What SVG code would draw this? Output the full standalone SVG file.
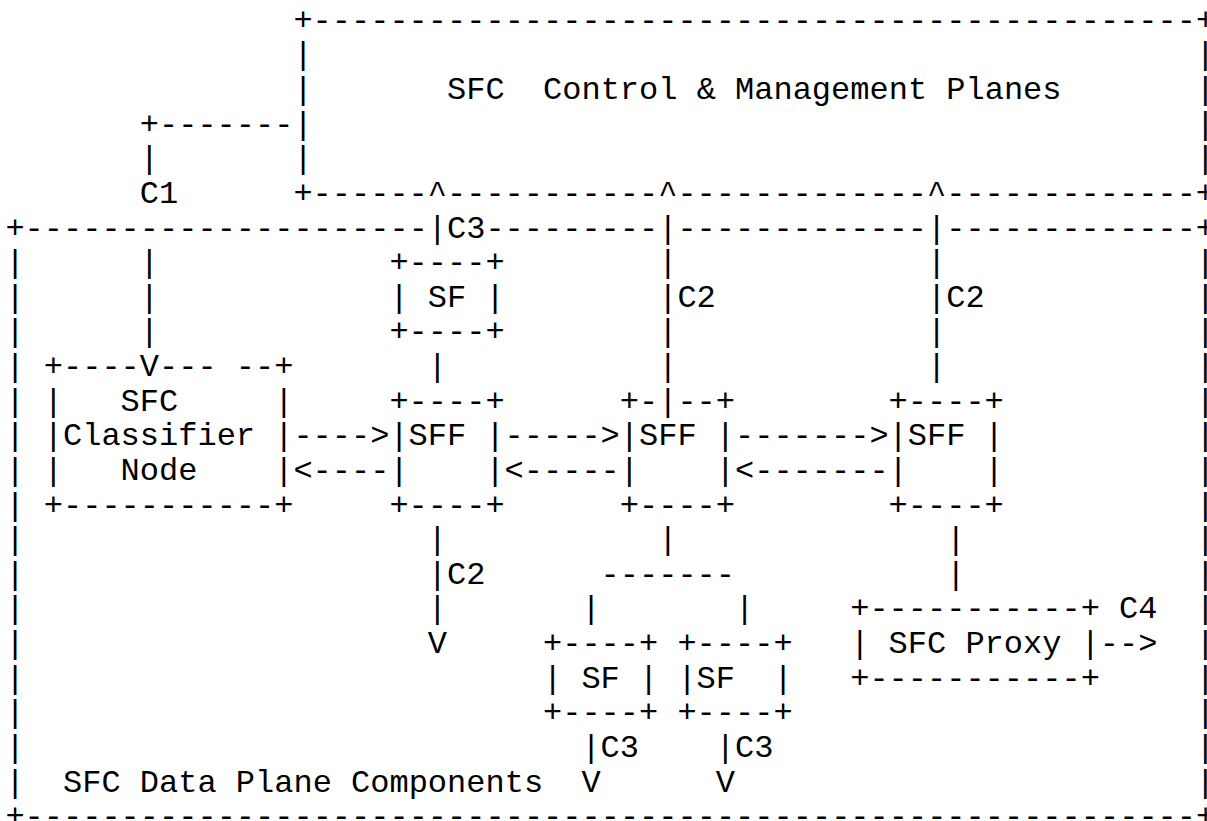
<svg xmlns="http://www.w3.org/2000/svg" width="1207" height="821" viewBox="0 0 1207 821" xml:space="preserve">
<style>
text { font-family: "Liberation Mono", "Courier New", monospace; font-size: 32px; fill: #000; white-space: pre; }
</style>
<rect x="0" y="0" width="1207" height="821" fill="#fff"/>
<g id="control-plane">
<text x="293.4" y="29.7">+----------------------------------------------+</text>
<text x="293.4" y="64.3">|</text><text x="1195.8" y="64.3">|</text>
<text x="293.4" y="99.0">|</text><text x="447.0" y="99.0">SFC  Control &amp; Management Planes</text><text x="1195.8" y="99.0">|</text>
<text x="293.4" y="133.6">|</text><text x="1195.8" y="133.6">|</text>
<text x="293.4" y="168.2">|</text><text x="1195.8" y="168.2">|</text>
<text x="293.4" y="202.9">+------</text><text x="447.0" y="202.9">-----------</text><text x="677.4" y="202.9">-------------</text><text x="946.2" y="202.9">-------------+</text>
</g>
<g id="data-plane">
<text x="5.4" y="237.5">+---------------------</text><text x="485.4" y="237.5">---------</text><text x="677.4" y="237.5">-------------</text><text x="946.2" y="237.5">-------------+</text>
<text x="5.4" y="272.1">|</text><text x="1195.8" y="272.1">|</text>
<text x="5.4" y="306.7">|</text><text x="1195.8" y="306.7">|</text>
<text x="5.4" y="341.4">|</text><text x="1195.8" y="341.4">|</text>
<text x="5.4" y="376.0">|</text><text x="1195.8" y="376.0">|</text>
<text x="5.4" y="410.6">|</text><text x="1195.8" y="410.6">|</text>
<text x="5.4" y="445.3">|</text><text x="1195.8" y="445.3">|</text>
<text x="5.4" y="479.9">|</text><text x="1195.8" y="479.9">|</text>
<text x="5.4" y="514.5">|</text><text x="1195.8" y="514.5">|</text>
<text x="5.4" y="549.2">|</text><text x="1195.8" y="549.2">|</text>
<text x="5.4" y="583.8">|</text><text x="1195.8" y="583.8">|</text>
<text x="5.4" y="618.4">|</text><text x="1195.8" y="618.4">|</text>
<text x="5.4" y="653.0">|</text><text x="1195.8" y="653.0">|</text>
<text x="5.4" y="687.7">|</text><text x="1195.8" y="687.7">|</text>
<text x="5.4" y="722.3">|</text><text x="1195.8" y="722.3">|</text>
<text x="5.4" y="756.9">|</text><text x="1195.8" y="756.9">|</text>
<text x="5.4" y="791.6">|</text><text x="63.0" y="791.6">SFC Data Plane Components</text><text x="1195.8" y="791.6">|</text>
<text x="5.4" y="826.2">+-------------------------------------------------------------+</text>
</g>
<g id="classifier">
<text x="43.8" y="376.0">+----</text><text x="159.0" y="376.0">--- --+</text>
<text x="43.8" y="410.6">|</text><text x="120.6" y="410.6">SFC</text><text x="274.2" y="410.6">|</text>
<text x="43.8" y="445.3">|Classifier |</text>
<text x="43.8" y="479.9">|</text><text x="120.6" y="479.9">Node</text><text x="274.2" y="479.9">|</text>
<text x="43.8" y="514.5">+-----------+</text>
</g>
<g id="sf-1">
<text x="389.4" y="272.1">+----+</text>
<text x="389.4" y="306.7">| SF |</text>
<text x="389.4" y="341.4">+----+</text>
</g>
<g id="sff-1">
<text x="389.4" y="410.6">+----+</text>
<text x="389.4" y="445.3">|SFF |</text>
<text x="389.4" y="479.9">|    |</text>
<text x="389.4" y="514.5">+----+</text>
</g>
<g id="sff-2">
<text x="619.8" y="410.6">+-</text><text x="677.4" y="410.6">--+</text>
<text x="619.8" y="445.3">|SFF |</text>
<text x="619.8" y="479.9">|    |</text>
<text x="619.8" y="514.5">+----+</text>
</g>
<g id="sff-3">
<text x="888.6" y="410.6">+----+</text>
<text x="888.6" y="445.3">|SFF |</text>
<text x="888.6" y="479.9">|    |</text>
<text x="888.6" y="514.5">+----+</text>
</g>
<g id="sf-2">
<text x="543.0" y="653.0">+----+</text>
<text x="543.0" y="687.7">| SF |</text>
<text x="543.0" y="722.3">+----+</text>
</g>
<g id="sf-3">
<text x="677.4" y="653.0">+----+</text>
<text x="677.4" y="687.7">|SF  |</text>
<text x="677.4" y="722.3">+----+</text>
</g>
<g id="sfc-proxy">
<text x="850.2" y="618.4">+-----------+</text>
<text x="850.2" y="653.0">| SFC Proxy |</text>
<text x="850.2" y="687.7">+-----------+</text>
</g>
<g id="connectors">
<text x="139.8" y="133.6">+-------</text>
<text x="139.8" y="168.2">|</text>
<text x="139.8" y="202.9">C1</text>
<text x="139.8" y="272.1">|</text>
<text x="139.8" y="306.7">|</text>
<text x="139.8" y="341.4">|</text>
<text x="139.8" y="376.0">V</text>
<text x="427.8" y="202.9">^</text><text x="658.2" y="202.9">^</text><text x="927.0" y="202.9">^</text>
<text x="427.8" y="237.5">|C3</text><text x="658.2" y="237.5">|</text><text x="927.0" y="237.5">|</text>
<text x="658.2" y="272.1">|</text><text x="927.0" y="272.1">|</text>
<text x="658.2" y="306.7">|C2</text><text x="927.0" y="306.7">|C2</text>
<text x="658.2" y="341.4">|</text><text x="927.0" y="341.4">|</text>
<text x="427.8" y="376.0">|</text><text x="658.2" y="376.0">|</text><text x="927.0" y="376.0">|</text>
<text x="658.2" y="410.6">|</text>
<text x="293.4" y="445.3">----&gt;</text><text x="504.6" y="445.3">-----&gt;</text><text x="735.0" y="445.3">-------&gt;</text>
<text x="293.4" y="479.9">&lt;----</text><text x="504.6" y="479.9">&lt;-----</text><text x="735.0" y="479.9">&lt;-------</text>
<text x="427.8" y="549.2">|</text><text x="658.2" y="549.2">|</text><text x="946.2" y="549.2">|</text>
<text x="427.8" y="583.8">|C2</text><text x="600.6" y="583.8">-------</text><text x="946.2" y="583.8">|</text>
<text x="427.8" y="618.4">|</text><text x="581.4" y="618.4">|</text><text x="735.0" y="618.4">|</text>
<text x="1119.0" y="618.4">C4</text>
<text x="427.8" y="653.0">V</text>
<text x="1099.8" y="653.0">--&gt;</text>
<text x="581.4" y="756.9">|C3</text><text x="715.8" y="756.9">|C3</text>
<text x="581.4" y="791.6">V</text><text x="715.8" y="791.6">V</text>
</g>
</svg>
